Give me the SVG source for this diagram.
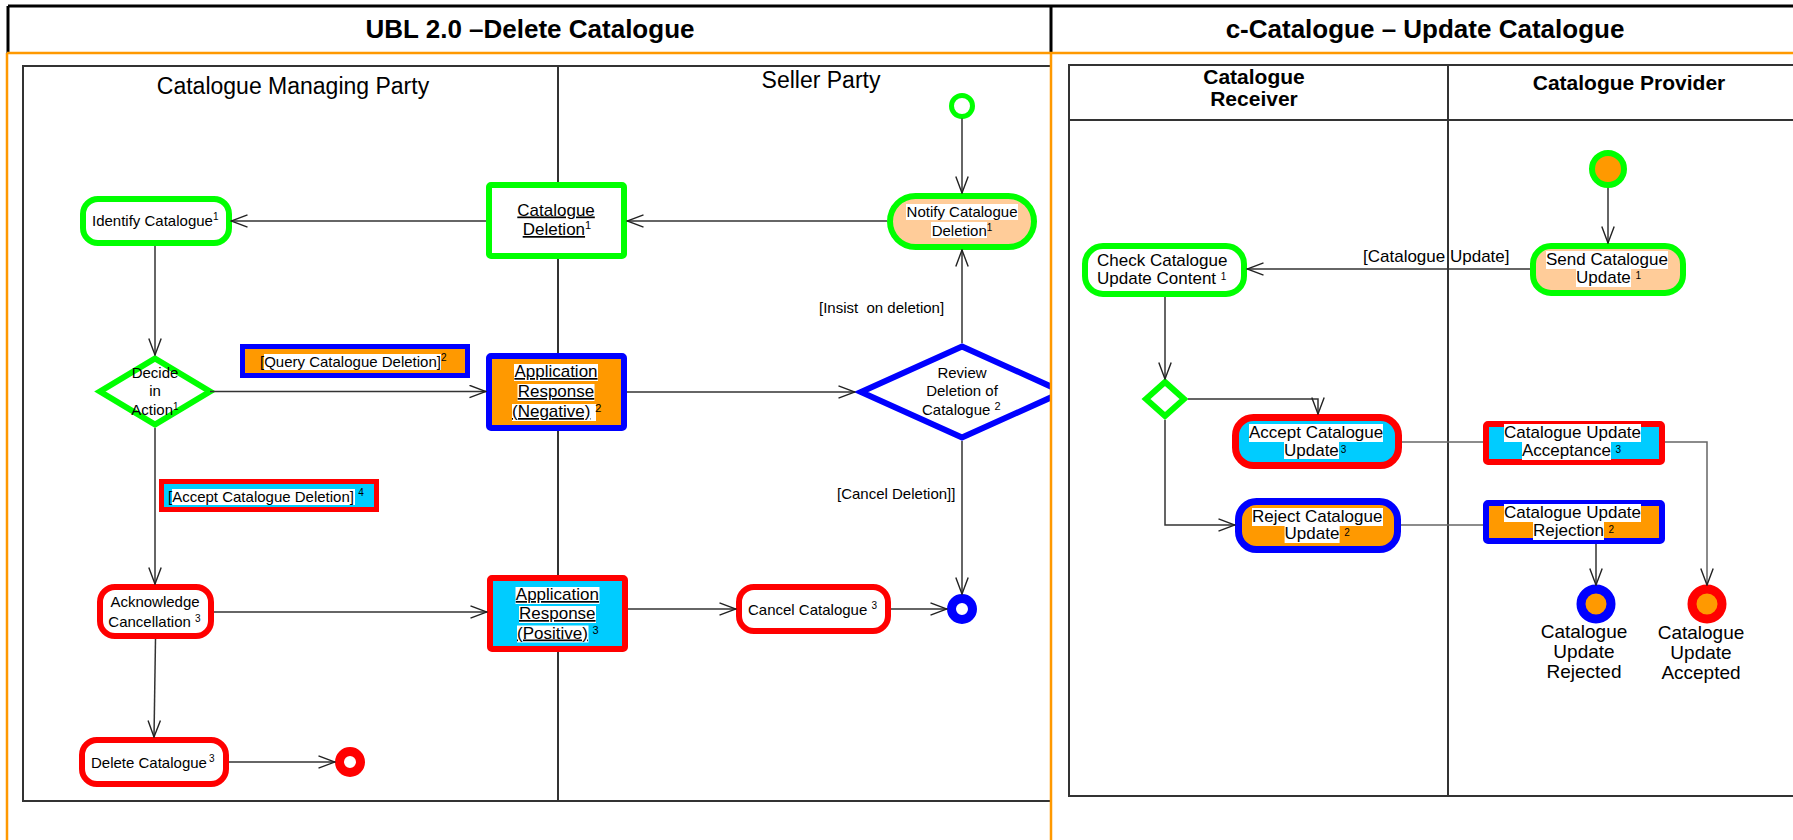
<svg xmlns="http://www.w3.org/2000/svg" width="1793" height="840" viewBox="0 0 1793 840">
<defs>
<style>
text{font-family:"Liberation Sans",Arial,Helvetica,sans-serif;fill:#000}
.f15{font-size:15px}
.f17{font-size:17px}
.f19{font-size:19px}
.hd{font-size:23px}
.ttl{font-size:26px;font-weight:bold}
.bh{font-size:21px;font-weight:bold}
.u{text-decoration:underline}
.hl{fill:#fff}
.frame{fill:none;stroke:#333;stroke-width:2}
.conn{fill:none;stroke:#333;stroke-width:1.5}
.conn2{fill:none;stroke:#666;stroke-width:1.5}
.arr{marker-end:url(#ah)}
.green{stroke:#00ff00;stroke-width:6}
.blue{stroke:#0000ff;stroke-width:6}
.red{stroke:#ff0000;stroke-width:6}
.wf{fill:#fff}
.of{fill:#ff9900}
.cf{fill:#00ccff}
.pf{fill:#ffcc99}
.sec{stroke:#000;stroke-width:3;fill:none}
.osec{stroke:#ff9900;stroke-width:2.5;fill:none}
</style>
<marker id="ah" viewBox="0 0 18 14" markerWidth="18" markerHeight="14" refX="17" refY="7" orient="auto" markerUnits="userSpaceOnUse">
<path d="M0.5,0.8 L17,7 L0.5,13.2" fill="none" stroke="#222" stroke-width="1.4"/>
</marker>
<clipPath id="leftclip"><rect x="0" y="54" width="1050" height="786"/></clipPath>
</defs>

<rect x="0" y="0" width="1793" height="840" fill="#fff"/>

<g id="titles">
<text class="ttl" x="530" y="38" text-anchor="middle">UBL 2.0 –Delete Catalogue</text>
<text class="ttl" x="1425" y="38" text-anchor="middle">c-Catalogue – Update Catalogue</text>
</g>

<g id="lanes-left">
<rect class="frame" x="23" y="66" width="1028" height="735"/>
<line class="frame" x1="558" y1="66" x2="558" y2="801"/>
<text class="hd" x="293" y="94" text-anchor="middle">Catalogue Managing Party</text>
<text class="hd" x="821" y="88" text-anchor="middle">Seller Party</text>
</g>

<g id="lanes-right">
<rect class="frame" x="1069" y="65" width="800" height="731"/>
<line class="frame" x1="1069" y1="120" x2="1793" y2="120"/>
<line class="frame" x1="1448" y1="65" x2="1448" y2="796"/>
<text class="bh" x="1254" y="84" text-anchor="middle">Catalogue</text>
<text class="bh" x="1254" y="106" text-anchor="middle">Receiver</text>
<text class="bh" x="1629" y="90" text-anchor="middle">Catalogue Provider</text>
</g>

<!-- Left diagram nodes -->
<g id="start-left"><circle cx="962" cy="106" r="10.5" fill="#fff" stroke="#00ff00" stroke-width="5"/></g>

<g id="notify">
<rect class="pf green" x="890" y="196" width="144" height="51" rx="25.5"/>
<rect class="hl" x="906" y="204" width="112" height="16"/>
<rect class="hl" x="931" y="222" width="56" height="16"/>
<text class="f15" x="906.6" y="217">Notify Catalogue</text>
<text class="f15" x="931.7" y="235.5">Deletion<tspan font-size="10" dy="-5">1</tspan></text>
</g>

<g id="catalogue-deletion">
<rect class="wf green" x="489" y="185" width="135" height="71" rx="2"/>
<text class="f17 u" x="517.3" y="215.5">Catalogue</text>
<text class="f17" x="522.7" y="235"><tspan class="u">Deletion</tspan><tspan font-size="11" dy="-6">1</tspan></text>
</g>

<g id="identify">
<rect class="wf green" x="83" y="199" width="146" height="44" rx="15"/>
<text class="f15" x="92" y="226">Identify Catalogue<tspan font-size="10" dy="-6">1</tspan></text>
</g>

<g id="decide">
<polygon class="wf green" points="155,358.5 210,391.5 155,424.5 100,391.5"/>
<text class="f15" x="155" y="378" text-anchor="middle">Decide</text>
<text class="f15" x="155" y="396" text-anchor="middle">in</text>
<text class="f15" x="131.3" y="415">Action<tspan font-size="10" dy="-5">1</tspan></text>
</g>

<g id="query-label">
<rect class="of" x="242.5" y="346.5" width="225" height="29" stroke="#0000ff" stroke-width="5"/>
<rect class="hl" x="264" y="354" width="177" height="16"/>
<text class="f15" x="260" y="366.5">[Query Catalogue Deletion]<tspan font-size="10" dy="-6">2</tspan></text>
</g>

<g id="app-response-negative">
<rect class="of blue" x="489" y="356" width="135" height="72" rx="2"/>
<rect class="hl" x="514" y="364" width="84" height="17"/>
<rect class="hl" x="517.5" y="384" width="77" height="17"/>
<rect class="hl" x="512" y="404" width="84" height="17"/>
<text class="f17 u" x="514.4" y="377">Application</text>
<text class="f17 u" x="517.7" y="397">Response</text>
<text class="f17" x="512" y="417"><tspan class="u">(Negative)</tspan> <tspan font-size="11" dy="-5">2</tspan></text>
</g>

<g id="review" clip-path="url(#leftclip)">
<polygon class="wf blue" points="962,346.5 1063,392 962,437.5 861,392"/>
<text class="f15" x="962" y="377.7" text-anchor="middle">Review</text>
<text class="f15" x="962" y="396" text-anchor="middle">Deletion of</text>
<text class="f15" x="922" y="414.5">Catalogue <tspan font-size="11" dy="-5">2</tspan></text>
</g>

<g id="insist-label"><text class="f15" x="819" y="313">[Insist&#160; on deletion]</text></g>
<g id="cancel-label"><text class="f15" x="837" y="499">[Cancel Deletion]]</text></g>

<g id="accept-label">
<rect class="cf" x="161.5" y="481.5" width="215" height="28" stroke="#ff0000" stroke-width="5"/>
<rect class="hl" x="172" y="489" width="183" height="16"/>
<text class="f15" x="168" y="501.5">[Accept Catalogue Deletion] <tspan font-size="10" dy="-6">4</tspan></text>
</g>

<g id="acknowledge">
<rect class="wf red" x="100" y="587" width="111" height="49" rx="15"/>
<text class="f15" x="110.4" y="607">Acknowledge</text>
<text class="f15" x="108.3" y="626.5">Cancellation <tspan font-size="10" dy="-5">3</tspan></text>
</g>

<g id="app-response-positive">
<rect class="cf red" x="490" y="578" width="135" height="71" rx="2"/>
<rect class="hl" x="515.5" y="587" width="84" height="17"/>
<rect class="hl" x="519" y="606" width="77" height="17"/>
<rect class="hl" x="517" y="625.5" width="71.5" height="17"/>
<text class="f17 u" x="515.8" y="600">Application</text>
<text class="f17 u" x="519" y="619">Response</text>
<text class="f17" x="517" y="638.5"><tspan class="u">(Positive)</tspan> <tspan font-size="11" dy="-5">3</tspan></text>
</g>

<g id="cancel-catalogue">
<rect class="wf red" x="739" y="587" width="149" height="44" rx="15"/>
<text class="f15" x="748" y="614.5">Cancel Catalogue <tspan font-size="10" dy="-6">3</tspan></text>
</g>

<g id="end-blue-left"><circle cx="962" cy="609" r="10.5" fill="#fff" stroke="#0000ff" stroke-width="9"/></g>

<g id="delete-catalogue">
<rect class="wf red" x="82" y="740" width="144" height="44" rx="15"/>
<text class="f15" x="91" y="768">Delete Catalogue<tspan font-size="10" dx="2" dy="-6">3</tspan></text>
</g>

<g id="end-red-left"><circle cx="350" cy="762" r="10.5" fill="#fff" stroke="#ff0000" stroke-width="9"/></g>

<!-- Right diagram nodes -->
<g id="start-right"><circle cx="1608" cy="169" r="16" fill="#ff9900" stroke="#00ff00" stroke-width="6"/></g>

<g id="send-update">
<rect class="pf green" x="1533" y="246" width="150" height="47" rx="18"/>
<rect class="hl" x="1546" y="251" width="122" height="18"/>
<rect class="hl" x="1576" y="269" width="55" height="18"/>
<text class="f17" x="1546" y="265">Send Catalogue</text>
<text class="f17" x="1576" y="283">Update <tspan font-size="10" dy="-4">1</tspan></text>
</g>

<g id="check-update">
<rect class="wf green" x="1085" y="246" width="159" height="48" rx="18"/>
<text class="f17" x="1097" y="266">Check Catalogue</text>
<text class="f17" x="1097" y="284">Update Content <tspan font-size="10" dy="-4">1</tspan></text>
</g>

<g id="decision-right">
<polygon class="wf green" points="1165,382 1184,399 1165,416 1146,399"/>
</g>

<g id="accept-update">
<rect class="cf" x="1235.5" y="417.5" width="163" height="48" rx="18" stroke="#ff0000" stroke-width="7"/>
<rect class="hl" x="1249" y="424" width="134" height="18"/>
<rect class="hl" x="1284" y="442" width="55" height="17"/>
<text class="f17" x="1249" y="438">Accept Catalogue</text>
<text class="f17" x="1284" y="456">Update<tspan font-size="10" dx="2" dy="-3">3</tspan></text>
</g>

<g id="reject-update">
<rect class="of" x="1238.5" y="501.5" width="159" height="48" rx="18" stroke="#0000ff" stroke-width="7"/>
<rect class="hl" x="1252" y="508" width="131" height="18"/>
<rect class="hl" x="1284.6" y="526" width="55" height="17"/>
<text class="f17" x="1252" y="522">Reject Catalogue</text>
<text class="f17" x="1284.6" y="539">Update <tspan font-size="10" dy="-3">2</tspan></text>
</g>

<g id="update-acceptance">
<rect class="cf red" x="1486" y="424" width="176" height="38" rx="2"/>
<rect class="hl" x="1504" y="424" width="137" height="18"/>
<rect class="hl" x="1522" y="442" width="89" height="18"/>
<text class="f17" x="1504" y="438">Catalogue Update</text>
<text class="f17" x="1522" y="456">Acceptance <tspan font-size="10" dy="-3">3</tspan></text>
</g>

<g id="update-rejection">
<rect class="of blue" x="1486" y="503" width="176" height="38" rx="2"/>
<rect class="hl" x="1504" y="504" width="137" height="18"/>
<rect class="hl" x="1533" y="522" width="71" height="18"/>
<text class="f17" x="1504" y="518">Catalogue Update</text>
<text class="f17" x="1533" y="536">Rejection <tspan font-size="10" dy="-3">2</tspan></text>
</g>

<g id="end-rejected">
<circle cx="1596" cy="604" r="15" fill="#ff9900" stroke="#0000ff" stroke-width="9"/>
<text class="f19" x="1584" y="638" text-anchor="middle">Catalogue</text>
<text class="f19" x="1584" y="658" text-anchor="middle">Update</text>
<text class="f19" x="1584" y="677.5" text-anchor="middle">Rejected</text>
</g>

<g id="end-accepted">
<circle cx="1707" cy="604" r="15" fill="#ff9900" stroke="#ff0000" stroke-width="9"/>
<text class="f19" x="1701" y="639" text-anchor="middle">Catalogue</text>
<text class="f19" x="1701" y="659" text-anchor="middle">Update</text>
<text class="f19" x="1701" y="679" text-anchor="middle">Accepted</text>
</g>

<g id="label-catalogue-update"><text class="f17" x="1363" y="262">[Catalogue Update]</text></g>

<g id="connectors">
<path class="conn arr" d="M962,118.5 V193"/>
<path class="conn arr" d="M887,221 H627"/>
<path class="conn arr" d="M486,221 H231"/>
<path class="conn arr" d="M155,246 V355"/>
<path class="conn arr" d="M210,391.5 H486"/>
<path class="conn arr" d="M627,392 H855"/>
<path class="conn arr" d="M962,343 V250"/>
<path class="conn arr" d="M962,441 V594"/>
<path class="conn arr" d="M155,428 V584"/>
<path class="conn arr" d="M214,612 H487"/>
<path class="conn arr" d="M628,609 H736"/>
<path class="conn arr" d="M891,609 H947"/>
<path class="conn arr" d="M155.5,639 L154,737"/>
<path class="conn arr" d="M229,762 H335"/>
<path class="conn arr" d="M1608,188 V243"/>
<path class="conn arr" d="M1530,269 H1247"/>
<path class="conn arr" d="M1165,297 V379"/>
<path class="conn arr" d="M1188,399 H1318 V414"/>
<path class="conn arr" d="M1165,420 V525 H1235"/>
<path class="conn2" d="M1402,442 H1483"/>
<path class="conn2 arr" d="M1665,442 H1707 V585"/>
<path class="conn2" d="M1401,525 H1483"/>
<path class="conn arr" d="M1596,544 V585"/>
</g>

<g id="sections">
<line class="sec" x1="8" y1="6" x2="1793" y2="6"/>
<line class="sec" x1="8" y1="6" x2="8" y2="53"/>
<line class="sec" x1="1051" y1="6" x2="1051" y2="53"/>
<line class="osec" x1="7" y1="53" x2="1793" y2="53"/>
<line class="osec" x1="7" y1="53" x2="7" y2="840"/>
<line class="osec" x1="1051" y1="53" x2="1051" y2="840"/>
</g>
</svg>
